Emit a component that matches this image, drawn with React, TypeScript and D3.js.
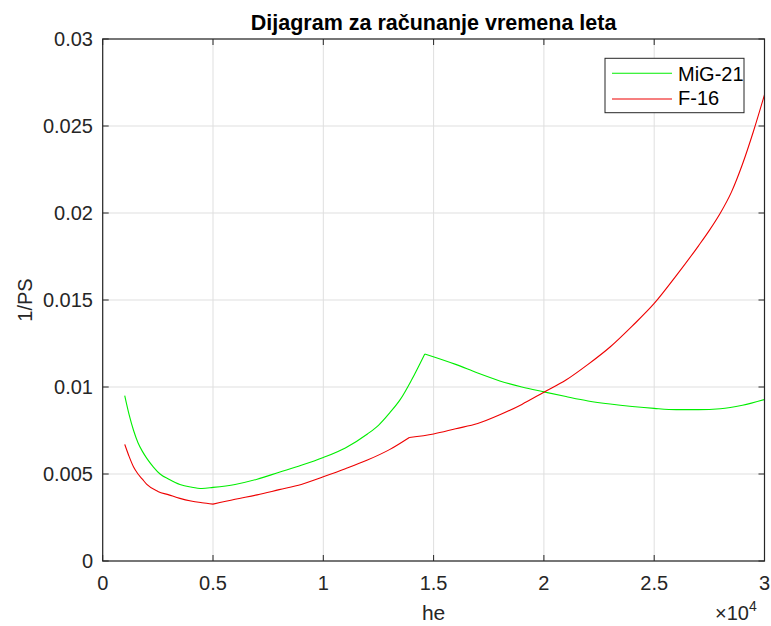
import React from "react";
import * as d3 from "d3";

const heights = [1000, 1200, 1400, 1600, 1800, 2000, 2300, 2600, 3000, 3500, 4000, 4500, 5000, 6000, 7000, 8000, 9000, 10000, 11000, 12000, 12500, 13000, 13500, 14000, 14600, 16000, 17000, 18000, 19000, 20000, 21000, 22000, 23000, 24000, 25000, 26000, 27000, 28000, 29000, 30000];
const mig21 = [0.0095, 0.0084, 0.0075, 0.0068, 0.0063, 0.0059, 0.0054, 0.005, 0.0047, 0.0044, 0.00425, 0.00417, 0.00423, 0.0044, 0.0047, 0.0051, 0.0055, 0.00595, 0.0065, 0.0073, 0.0078, 0.0085, 0.0093, 0.0104, 0.0119, 0.0113, 0.0108, 0.01035, 0.01, 0.00972, 0.00945, 0.0092, 0.00902, 0.00888, 0.00877, 0.0087, 0.0087, 0.00875, 0.00895, 0.00928];
const mig21Kinks = [14600];

const f16Heights = [1000, 1200, 1400, 1600, 1800, 2000, 2500, 3000, 3500, 4000, 4500, 5000, 6000, 7000, 8000, 9000, 10000, 11000, 12000, 13000, 13900, 15000, 16000, 17000, 18000, 19000, 20000, 21000, 22000, 23000, 24000, 25000, 26000, 27000, 27500, 28000, 28500, 29000, 29500, 30000];
const f16 = [0.0067, 0.006, 0.0054, 0.005, 0.0047, 0.0044, 0.004, 0.0038, 0.0036, 0.00345, 0.00335, 0.00327, 0.00355, 0.0038, 0.0041, 0.0044, 0.00484, 0.0053, 0.0058, 0.0064, 0.0071, 0.0073, 0.0076, 0.0079, 0.0084, 0.009, 0.0097, 0.0104, 0.0113, 0.0123, 0.0135, 0.0148, 0.0164, 0.0181, 0.019, 0.02, 0.0212, 0.0228, 0.0247, 0.0268];
const f16Kinks = [5000, 13900];

const xTicks = [0, 5000, 10000, 15000, 20000, 25000, 30000];
const xTickLabels = ["0", "0.5", "1", "1.5", "2", "2.5", "3"];
const yTicks = [0, 0.005, 0.01, 0.015, 0.02, 0.025, 0.03];
const yTickLabels = ["0", "0.005", "0.01", "0.015", "0.02", "0.025", "0.03"];
const seriesNames = ["MiG-21", "F-16"];
const seriesColors = ["#00ee00", "#ee0000"];

const W = 771, H = 626;
const L = 102.7, R = 764.5, T = 39, B = 561;
const FONT = "'Liberation Sans', Arial, Helvetica, sans-serif";
const AX = "#262626";

type P = [number, number];

function splitAt(pts: P[], kinks: number[]): P[][] {
  const segs: P[][] = [];
  let cur: P[] = [];
  pts.forEach(p => {
    cur.push(p);
    if (kinks.includes(p[0])) {
      segs.push(cur);
      cur = [p];
    }
  });
  if (cur.length > 1) segs.push(cur);
  return segs;
}

export default function App() {
  const x = d3.scaleLinear().domain([0, 30000]).range([L, R]);
  const y = d3.scaleLinear().domain([0, 0.03]).range([B, T]);
  const line = d3.line<P>().x(d => x(d[0])).y(d => y(d[1])).curve(d3.curveMonotoneX);
  const s1 = heights.map((h, i) => [h, mig21[i]] as P);
  const s2 = f16Heights.map((h, i) => [h, f16[i]] as P);
  const d1 = splitAt(s1, mig21Kinks).map(s => line(s) || "").join(" ");
  const d2 = splitAt(s2, f16Kinks).map(s => line(s) || "").join(" ");
  const tl = 6;
  return (
    <svg width={W} height={H} style={{ position: "absolute", left: 0, top: 0, background: "#fff" }} fontFamily={FONT}>
      <rect x={0} y={0} width={W} height={H} fill="#fff" />
      {xTicks.map((t, i) => (
        <line key={"gx" + i} x1={x(t)} x2={x(t)} y1={T} y2={B} stroke="#dfdfdf" strokeWidth={1} />
      ))}
      {yTicks.map((t, i) => (
        <line key={"gy" + i} x1={L} x2={R} y1={y(t)} y2={y(t)} stroke="#dfdfdf" strokeWidth={1} />
      ))}
      <path d={d1} fill="none" stroke={seriesColors[0]} strokeWidth={1.1} strokeLinejoin="round" />
      <path d={d2} fill="none" stroke={seriesColors[1]} strokeWidth={1.1} strokeLinejoin="round" />
      <rect x={L} y={T} width={R - L} height={B - T} fill="none" stroke={AX} strokeWidth={1.2} />
      {xTicks.map((t, i) => (
        <g key={"tx" + i}>
          <line x1={x(t)} x2={x(t)} y1={B} y2={B - tl} stroke={AX} />
          <line x1={x(t)} x2={x(t)} y1={T} y2={T + tl} stroke={AX} />
          <text x={x(t)} y={590} textAnchor="middle" fontSize={20} fill={AX}>{xTickLabels[i]}</text>
        </g>
      ))}
      {yTicks.map((t, i) => (
        <g key={"ty" + i}>
          <line x1={L} x2={L + tl} y1={y(t)} y2={y(t)} stroke={AX} />
          <line x1={R} x2={R - tl} y1={y(t)} y2={y(t)} stroke={AX} />
          <text x={93} y={y(t) + 7} textAnchor="end" fontSize={20} fill={AX}>{yTickLabels[i]}</text>
        </g>
      ))}
      <text x={(L + R) / 2} y={30} textAnchor="middle" fontSize={21.5} fontWeight="bold" fill="#000">Dijagram za računanje vremena leta</text>
      <text x={(L + R) / 2} y={620} textAnchor="middle" fontSize={21} fill={AX}>he</text>
      <text transform={`translate(32,${(T + B) / 2}) rotate(-90)`} textAnchor="middle" fontSize={20} fill={AX}>1/PS</text>
      <text x={715} y={620} fontSize={20} fill={AX}>×10<tspan dy={-9} fontSize={14}>4</tspan></text>
      <rect x={605} y={58.3} width={139} height={54.4} fill="#fff" stroke={AX} strokeWidth={1} />
      {seriesNames.map((n, i) => (
        <g key={"lg" + i}>
          <line x1={612} x2={672} y1={73.3 + i * 25.7} y2={73.3 + i * 25.7} stroke={seriesColors[i]} strokeWidth={1.1} />
          <text x={678} y={80.7 + i * 24.5} fontSize={20} fill="#000">{n}</text>
        </g>
      ))}
    </svg>
  );
}
